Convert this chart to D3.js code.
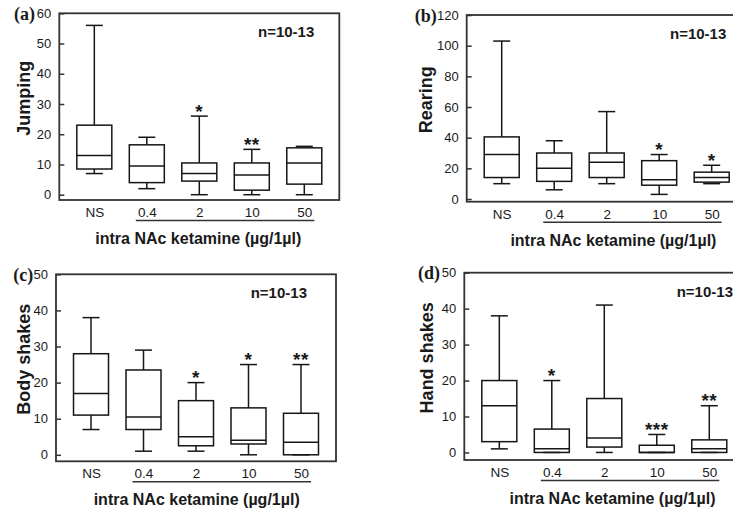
<!DOCTYPE html>
<html>
<head>
<meta charset="utf-8">
<script src="https://cdn.jsdelivr.net/npm/d3@7"></script>
<style>
  body { margin: 0; background: #fff; }
  svg { display: block; }
  text { font-family: "Liberation Sans", Arial, Helvetica, sans-serif; fill: #1a1a1a; }
</style>
</head>
<body>
<svg id="chart" width="733" height="508"></svg>
<script>
// Data: each row is [min, q1, median, q3, max] for one dose group
var doses = ["NS", "0.4", "2", "10", "50"];

var jumping = [[7, 8.5, 13, 23, 56], [2, 4, 9.5, 16.5, 19], [0, 4.5, 7, 10.5, 26], [0, 1.5, 6.5, 10.5, 15], [0, 3.5, 10.5, 15.5, 16]];
var rearing = [[10, 14, 29, 40.5, 103], [6, 11.5, 20, 30, 38], [10, 14, 24, 30, 57], [3, 9, 12.5, 25, 29], [10, 11, 14, 17.5, 22]];
var bodyShakes = [[7, 11, 17, 28, 38], [1, 7, 10.5, 23.5, 29], [1, 2.5, 5, 15, 20], [0, 3, 4, 13, 25], [0, 0, 3.5, 11.5, 25]];
var handShakes = [[1, 3, 13, 20, 38], [0, 0, 1, 6.5, 20], [0, 1.5, 4, 15, 41], [0, 0, 0, 2, 5], [0, 0, 1, 3.5, 13]];

var jumpingStars = ["", "", "*", "**", ""];
var rearingStars = ["", "", "", "*", "*"];
var bodyStars = ["", "", "*", "*", "**"];
var handStars = ["", "*", "", "***", "**"];

var ticks60 = [0, 10, 20, 30, 40, 50, 60];
var ticks120 = [0, 20, 40, 60, 80, 100, 120];
var ticks50 = [0, 10, 20, 30, 40, 50];

var panelLetters = ["(a)", "(b)", "(c)", "(d)"];
var yTitles = ["Jumping", "Rearing", "Body shakes", "Hand shakes"];
var xTitle = "intra NAc ketamine (\u00b5g/1\u00b5l)";
var nLabel = "n=10-13";

// Layout per panel
var panels = [
  {data: jumping, stars: jumpingStars, ticks: ticks60, yMin: -1.75, yMax: 60,
   left: 59.3, top: 13.3, bottom: 200, letterX: -24.3, yLabX: -29.5, nX: 198.7, titleX: 139},
  {data: rearing, stars: rearingStars, ticks: ticks120, yMin: -1.76, yMax: 120,
   left: 466.7, top: 15, bottom: 201.7, letterX: -30, yLabX: -35, nX: 203.3, titleX: 146.7},
  {data: bodyShakes, stars: bodyStars, ticks: ticks50, yMin: -1.8, yMax: 50,
   left: 56, top: 274.3, bottom: 461.3, letterX: -22.7, yLabX: -26, nX: 194.7, titleX: 140.7},
  {data: handShakes, stars: handStars, ticks: ticks50, yMin: -2.1, yMax: 50,
   left: 464.3, top: 272.7, bottom: 460, letterX: -24.3, yLabX: -31, nX: 212.4, titleX: 148.2}
];

var frameW = 280;
var boxHalf = 17.5;
var capHalf = 8.5;
var ink = "#161616";

var svg = d3.select("#chart");

panels.forEach(function(p, i) {
  var g = svg.append("g");

  var x = d3.scalePoint()
    .domain(doses)
    .range([p.left, p.left + frameW])
    .padding(0.667);

  var y = d3.scaleLinear()
    .domain([p.yMin, p.yMax])
    .range([p.bottom, p.top]);

  // frame
  g.append("rect")
    .attr("x", p.left).attr("y", p.top)
    .attr("width", frameW).attr("height", p.bottom - p.top)
    .attr("fill", "none")
    .attr("stroke", "#333")
    .attr("stroke-width", 1.8);

  // y axis, ticks pointing in
  var yAxis = g.append("g")
    .attr("transform", "translate(" + p.left + ",0)")
    .call(d3.axisLeft(y).tickValues(p.ticks).tickSizeInner(-5).tickSizeOuter(0).tickPadding(8));
  yAxis.select(".domain").remove();
  yAxis.selectAll(".tick line").attr("stroke", "#333").attr("stroke-width", 1.5);
  yAxis.selectAll(".tick text")
    .attr("font-size", 13)
    .attr("font-family", "\"Liberation Sans\", Arial, sans-serif")
    .attr("fill", "#1a1a1a");

  // x category labels
  var xAxis = g.append("g")
    .attr("transform", "translate(0," + p.bottom + ")")
    .call(d3.axisBottom(x).tickSize(0).tickPadding(7.5));
  xAxis.select(".domain").remove();
  xAxis.selectAll(".tick text")
    .attr("font-size", 13.5)
    .attr("font-family", "\"Liberation Sans\", Arial, sans-serif")
    .attr("fill", "#1a1a1a");

  // line under the ketamine doses
  g.append("line")
    .attr("x1", x("0.4") - 11).attr("x2", x("50") + 10)
    .attr("y1", p.bottom + 20.5).attr("y2", p.bottom + 20.5)
    .attr("stroke", "#333").attr("stroke-width", 1.4);

  // boxes
  var box = g.selectAll(".box")
    .data(p.data)
    .enter().append("g")
    .attr("class", "box")
    .attr("transform", function(d, j) { return "translate(" + x(doses[j]) + ",0)"; });

  box.append("line")
    .attr("x1", 0).attr("x2", 0)
    .attr("y1", function(d) { return y(d[4]); })
    .attr("y2", function(d) { return y(d[0]); })
    .attr("stroke", ink).attr("stroke-width", 1.5);

  box.append("rect")
    .attr("x", -boxHalf).attr("width", boxHalf * 2)
    .attr("y", function(d) { return y(d[3]); })
    .attr("height", function(d) { return Math.max(y(d[1]) - y(d[3]), 0); })
    .attr("fill", "#fff")
    .attr("stroke", ink).attr("stroke-width", 1.5);

  box.append("line")
    .attr("x1", -boxHalf).attr("x2", boxHalf)
    .attr("y1", function(d) { return y(d[2]); })
    .attr("y2", function(d) { return y(d[2]); })
    .attr("stroke", ink).attr("stroke-width", 1.5);

  [0, 4].forEach(function(k) {
    box.append("line")
      .attr("x1", -capHalf).attr("x2", capHalf)
      .attr("y1", function(d) { return y(d[k]); })
      .attr("y2", function(d) { return y(d[k]); })
      .attr("stroke", ink).attr("stroke-width", 1.5);
  });

  // significance stars
  box.append("text")
    .attr("text-anchor", "middle")
    .attr("y", function(d) { return y(d[4]) + 1.5; })
    .attr("font-size", 19)
    .attr("font-weight", "bold")
    .attr("letter-spacing", 0.5)
    .text(function(d, j) { return p.stars[j]; });

  // texts
  g.append("text")
    .attr("x", p.left + p.letterX).attr("y", p.top + 6.5)
    .attr("text-anchor", "end")
    .attr("font-family", "\"Liberation Serif\", \"Times New Roman\", serif")
    .attr("font-weight", "bold")
    .attr("font-size", 18)
    .style("font-family", "\"Liberation Serif\", \"DejaVu Serif\", serif")
    .text(panelLetters[i]);

  g.append("text")
    .attr("transform", "translate(" + (p.left + p.yLabX) + "," + ((p.top + p.bottom) / 2 - 8.5) + ") rotate(-90)")
    .attr("text-anchor", "middle")
    .attr("font-weight", "bold")
    .attr("font-size", 18)
    .text(yTitles[i]);

  g.append("text")
    .attr("x", p.left + p.nX).attr("y", p.top + 24)
    .attr("font-weight", "bold")
    .attr("font-size", 15)
    .text(nLabel);

  g.append("text")
    .attr("x", p.left + p.titleX).attr("y", p.bottom + 44)
    .attr("text-anchor", "middle")
    .attr("font-weight", "bold")
    .attr("font-size", 16)
    .text(xTitle);
});
</script>
</body>
</html>
